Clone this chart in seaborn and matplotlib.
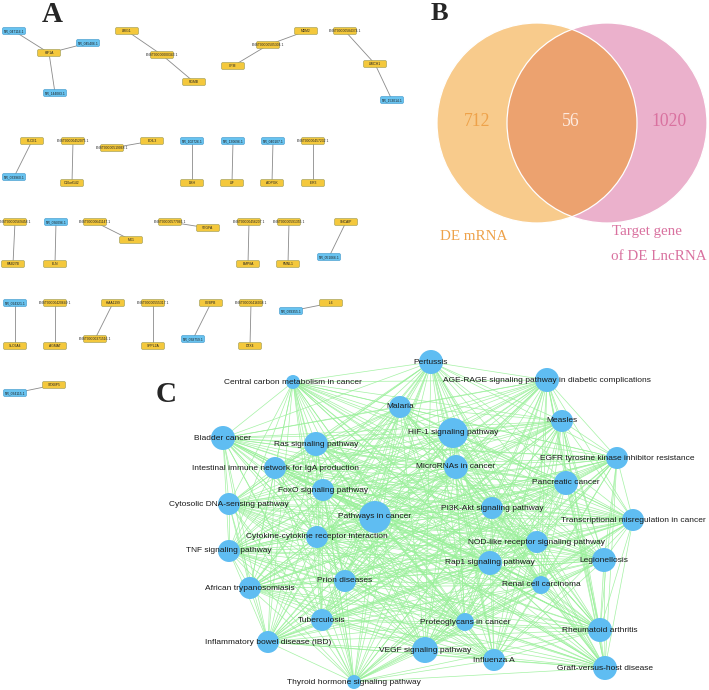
import itertools
import pandas as pd
import matplotlib
matplotlib.use("Agg")
import matplotlib.pyplot as plt
from matplotlib.patches import FancyBboxPatch, Circle
from matplotlib.collections import LineCollection
import seaborn as sns

# ----------------- A: lncRNA - mRNA pairs -----------------
a_names = ['NR_047116.1', 'NR_045406.1', 'HIF1A', 'NR_144083.1', 'LRIG1', 'ENST00000000343.1',
           'RGMB', 'CPM', 'ENST00000505304.1', 'MDM2', 'ENST00000584374.1', 'LIMCH1', 'NR_153014.1',
           'PLCE1', 'NR_033960.1', 'ENST00000452075.1', 'C10orf142', 'ENST00000519068.1', 'EDIL3',
           'NR_102726.1', 'DBH', 'NR_130696.1', 'LIF', 'NR_040107.1', 'ADPGK', 'ENST00000457232.1', 'IER3',
           'ENST00000569458.1', 'RAB27B', 'NR_036096.1', 'ELN', 'ENST00000641147.1', 'MX1',
           'ENST00000577066.1', 'VEGFA', 'ENST00000456207.1', 'BMP8A', 'ENST00000591355.1', 'FMNL1',
           'SNCAIP', 'NR_051066.1', 'NR_024321.1', 'SLC6A4', 'ENST00000420649.1', 'AGMAT',
           'KIAA1199', 'ENST00000371516.1', 'ENST00000555317.1', 'SPPL2A', 'CEBPB', 'NR_038759.1',
           'ENST00000416038.1', 'DTX4', 'IL6', 'NR_039355.1', 'STXBP5', 'NR_034115.1']
a_x = [14, 88, 49, 55, 127, 162, 194, 233, 268, 306, 345, 375, 392,
       32, 14, 73, 72, 112, 152, 192, 192, 233, 232, 273, 272, 313, 313,
       15, 13, 56, 55, 95, 131, 170, 208, 249, 248, 289, 288, 346, 329,
       15, 15, 55, 55, 113, 95, 153, 153, 211, 193, 251, 250, 331, 291, 54, 15]
a_y = [31, 43, 53, 93, 31, 55, 82, 66, 45, 31, 31, 64, 100,
       141, 177, 141, 183, 148, 141, 141, 183, 141, 183, 141, 183, 141, 183,
       222, 264, 222, 264, 222, 240, 222, 228, 222, 264, 222, 264, 222, 257,
       303, 346, 303, 346, 303, 339, 303, 346, 303, 339, 303, 346, 303, 311, 385, 393]
a_links = [('HIF1A', 'NR_047116.1'), ('HIF1A', 'NR_045406.1'), ('HIF1A', 'NR_144083.1'),
           ('LRIG1', 'ENST00000000343.1'), ('ENST00000000343.1', 'RGMB'),
           ('CPM', 'ENST00000505304.1'), ('ENST00000505304.1', 'MDM2'),
           ('ENST00000584374.1', 'LIMCH1'), ('LIMCH1', 'NR_153014.1'),
           ('PLCE1', 'NR_033960.1'), ('ENST00000452075.1', 'C10orf142'), ('ENST00000519068.1', 'EDIL3'),
           ('NR_102726.1', 'DBH'), ('NR_130696.1', 'LIF'), ('NR_040107.1', 'ADPGK'),
           ('ENST00000457232.1', 'IER3'), ('ENST00000569458.1', 'RAB27B'), ('NR_036096.1', 'ELN'),
           ('ENST00000641147.1', 'MX1'), ('ENST00000577066.1', 'VEGFA'), ('ENST00000456207.1', 'BMP8A'),
           ('ENST00000591355.1', 'FMNL1'), ('SNCAIP', 'NR_051066.1'), ('NR_024321.1', 'SLC6A4'),
           ('ENST00000420649.1', 'AGMAT'), ('KIAA1199', 'ENST00000371516.1'),
           ('ENST00000555317.1', 'SPPL2A'), ('CEBPB', 'NR_038759.1'), ('ENST00000416038.1', 'DTX4'),
           ('IL6', 'NR_039355.1'), ('STXBP5', 'NR_034115.1')]

# ----------------- B: Venn counts -----------------
venn_counts = [712, 56, 1020]
venn_sets = ['DE mRNA', 'Target gene', 'of DE LncRNA']

# ----------------- C: KEGG pathway network -----------------
c_names = ['Pertussis', 'Central carbon metabolism in cancer',
           'AGE-RAGE signaling pathway in diabetic complications', 'Malaria', 'Measles',
           'Bladder cancer', 'HIF-1 signaling pathway', 'Ras signaling pathway',
           'EGFR tyrosine kinase inhibitor resistance', 'Intestinal immune network for IgA production',
           'MicroRNAs in cancer', 'Pancreatic cancer', 'FoxO signaling pathway',
           'Cytosolic DNA-sensing pathway', 'Pathways in cancer', 'PI3K-Akt signaling pathway',
           'Transcriptional misregulation in cancer', 'Cytokine-cytokine receptor interaction',
           'NOD-like receptor signaling pathway', 'TNF signaling pathway', 'Rap1 signaling pathway',
           'Legionellosis', 'Prion diseases', 'African trypanosomiasis', 'Renal cell carcinoma',
           'Tuberculosis', 'Proteoglycans in cancer', 'Rheumatoid arthritis',
           'Inflammatory bowel disease (IBD)', 'VEGF signaling pathway', 'Influenza A',
           'Graft-versus-host disease', 'Thyroid hormone signaling pathway']
c_x = [431, 293, 547, 400, 562, 223, 453, 316, 617, 275, 456, 566, 323, 229, 375, 492, 633,
       317, 537, 229, 490, 604, 345, 250, 541, 322, 465, 600, 268, 425, 494, 605, 354]
c_y = [362, 382, 380, 407, 421, 438, 433, 444, 458, 468, 467, 483, 490, 504, 517, 508, 520,
       537, 542, 551, 563, 560, 581, 588, 585, 620, 622, 630, 642, 650, 660, 668, 682]
c_radius = [12, 7, 12, 11, 11, 12, 15, 12, 11, 11, 12, 12, 11, 11, 16, 11, 11,
            11, 11, 11, 12, 12, 11, 11, 9, 11, 9, 12, 11, 13, 11, 12, 7]

fig = plt.figure(figsize=(7.09, 6.90), dpi=100)
ax = fig.add_axes([0, 0, 1, 1])
sns.set_style("white")

# --- panel A ---
pos_a = {n: (x, y) for n, x, y in zip(a_names, a_x, a_y)}
segs_a = [[pos_a[s], pos_a[t]] for s, t in a_links]
ax.add_collection(LineCollection(segs_a, colors='#8a8a8a', linewidths=0.6, zorder=1))
for n, x, y in zip(a_names, a_x, a_y):
    blue = n.startswith('NR_')
    fc = '#68c3f0' if blue else '#f4c83c'
    ec = '#4a9fd0' if blue else '#a9a35a'
    w, h = 22, 6
    ax.add_patch(FancyBboxPatch((x - w / 2, y - h / 2), w, h,
                                boxstyle='round,pad=0.4,rounding_size=1.2',
                                fc=fc, ec=ec, lw=0.5, zorder=2))
    ax.text(x, y, n, fontsize=2.4, ha='center', va='center', color='#222222', zorder=3,
            family='Liberation Sans')

# --- panel B ---
left_c, right_c, rad = (537, 123), (607, 123), 100
ax.add_patch(Circle(left_c, rad, fc='#f8cb8c', ec='none', zorder=1))
ax.add_patch(Circle(right_c, rad, fc='#ebb1cc', ec='none', zorder=1))
clip = Circle(right_c, rad, transform=ax.transData)
ov = Circle(left_c, rad, fc='#eca26f', ec='none', zorder=1.5)
ax.add_patch(ov)
ov.set_clip_path(clip)
for c in (left_c, right_c):
    ax.add_patch(Circle(c, rad, fc='none', ec='white', lw=0.9, zorder=2))
serif = 'Liberation Serif'
orange, pink = '#eea24a', '#d9719f'
ax.text(477, 122, str(venn_counts[0]), fontsize=12.7, color=orange, ha='center', va='center', family=serif)
ax.text(571, 122, str(venn_counts[1]), fontsize=12.7, color='#fdeadf', ha='center', va='center', family=serif)
ax.text(669, 122, str(venn_counts[2]), fontsize=12.7, color=pink, ha='center', va='center', family=serif)
ax.text(474, 237, venn_sets[0], fontsize=10.8, color=orange, ha='center', va='center', family=serif)
ax.text(612, 232, venn_sets[1], fontsize=10.8, color=pink, ha='left', va='center', family=serif)
ax.text(611, 257, venn_sets[2], fontsize=10.8, color=pink, ha='left', va='center', family=serif)

# --- panel C ---
cdf = pd.DataFrame({'name': c_names, 'x': c_x, 'y': c_y, 'r': c_radius})
cdf['area'] = (2 * cdf['r'] * 0.72) ** 2
segs_c = [[(x1, y1), (x2, y2)] for (x1, y1), (x2, y2)
          in itertools.combinations(zip(c_x, c_y), 2)]
ax.add_collection(LineCollection(segs_c, colors='#9af09a', linewidths=0.5, alpha=0.9, zorder=1))
amin, amax = cdf['area'].min(), cdf['area'].max()
sns.scatterplot(data=cdf, x='x', y='y', size='area', sizes=(amin, amax), size_norm=(amin, amax),
                color='#5fbdf2', edgecolor='none', linewidth=0, legend=False, ax=ax, zorder=2)
for n, x, y in zip(c_names, c_x, c_y):
    ax.text(x, y, n, fontsize=6.0, ha='center', va='center', color='#1a1a1a', zorder=3,
            family='Liberation Sans')

# panel letters
for letter, x, y, fs in [('A', 52, 14, 21), ('B', 439, 13, 19), ('C', 166, 395, 21)]:
    ax.text(x, y, letter, fontsize=fs, fontweight='bold', ha='center', va='center', family=serif)

ax.set_xlim(0, 709)
ax.set_ylim(690, 0)
ax.set_aspect('auto')
ax.axis('off')
fig.savefig('out.png', dpi=100, facecolor='white')
